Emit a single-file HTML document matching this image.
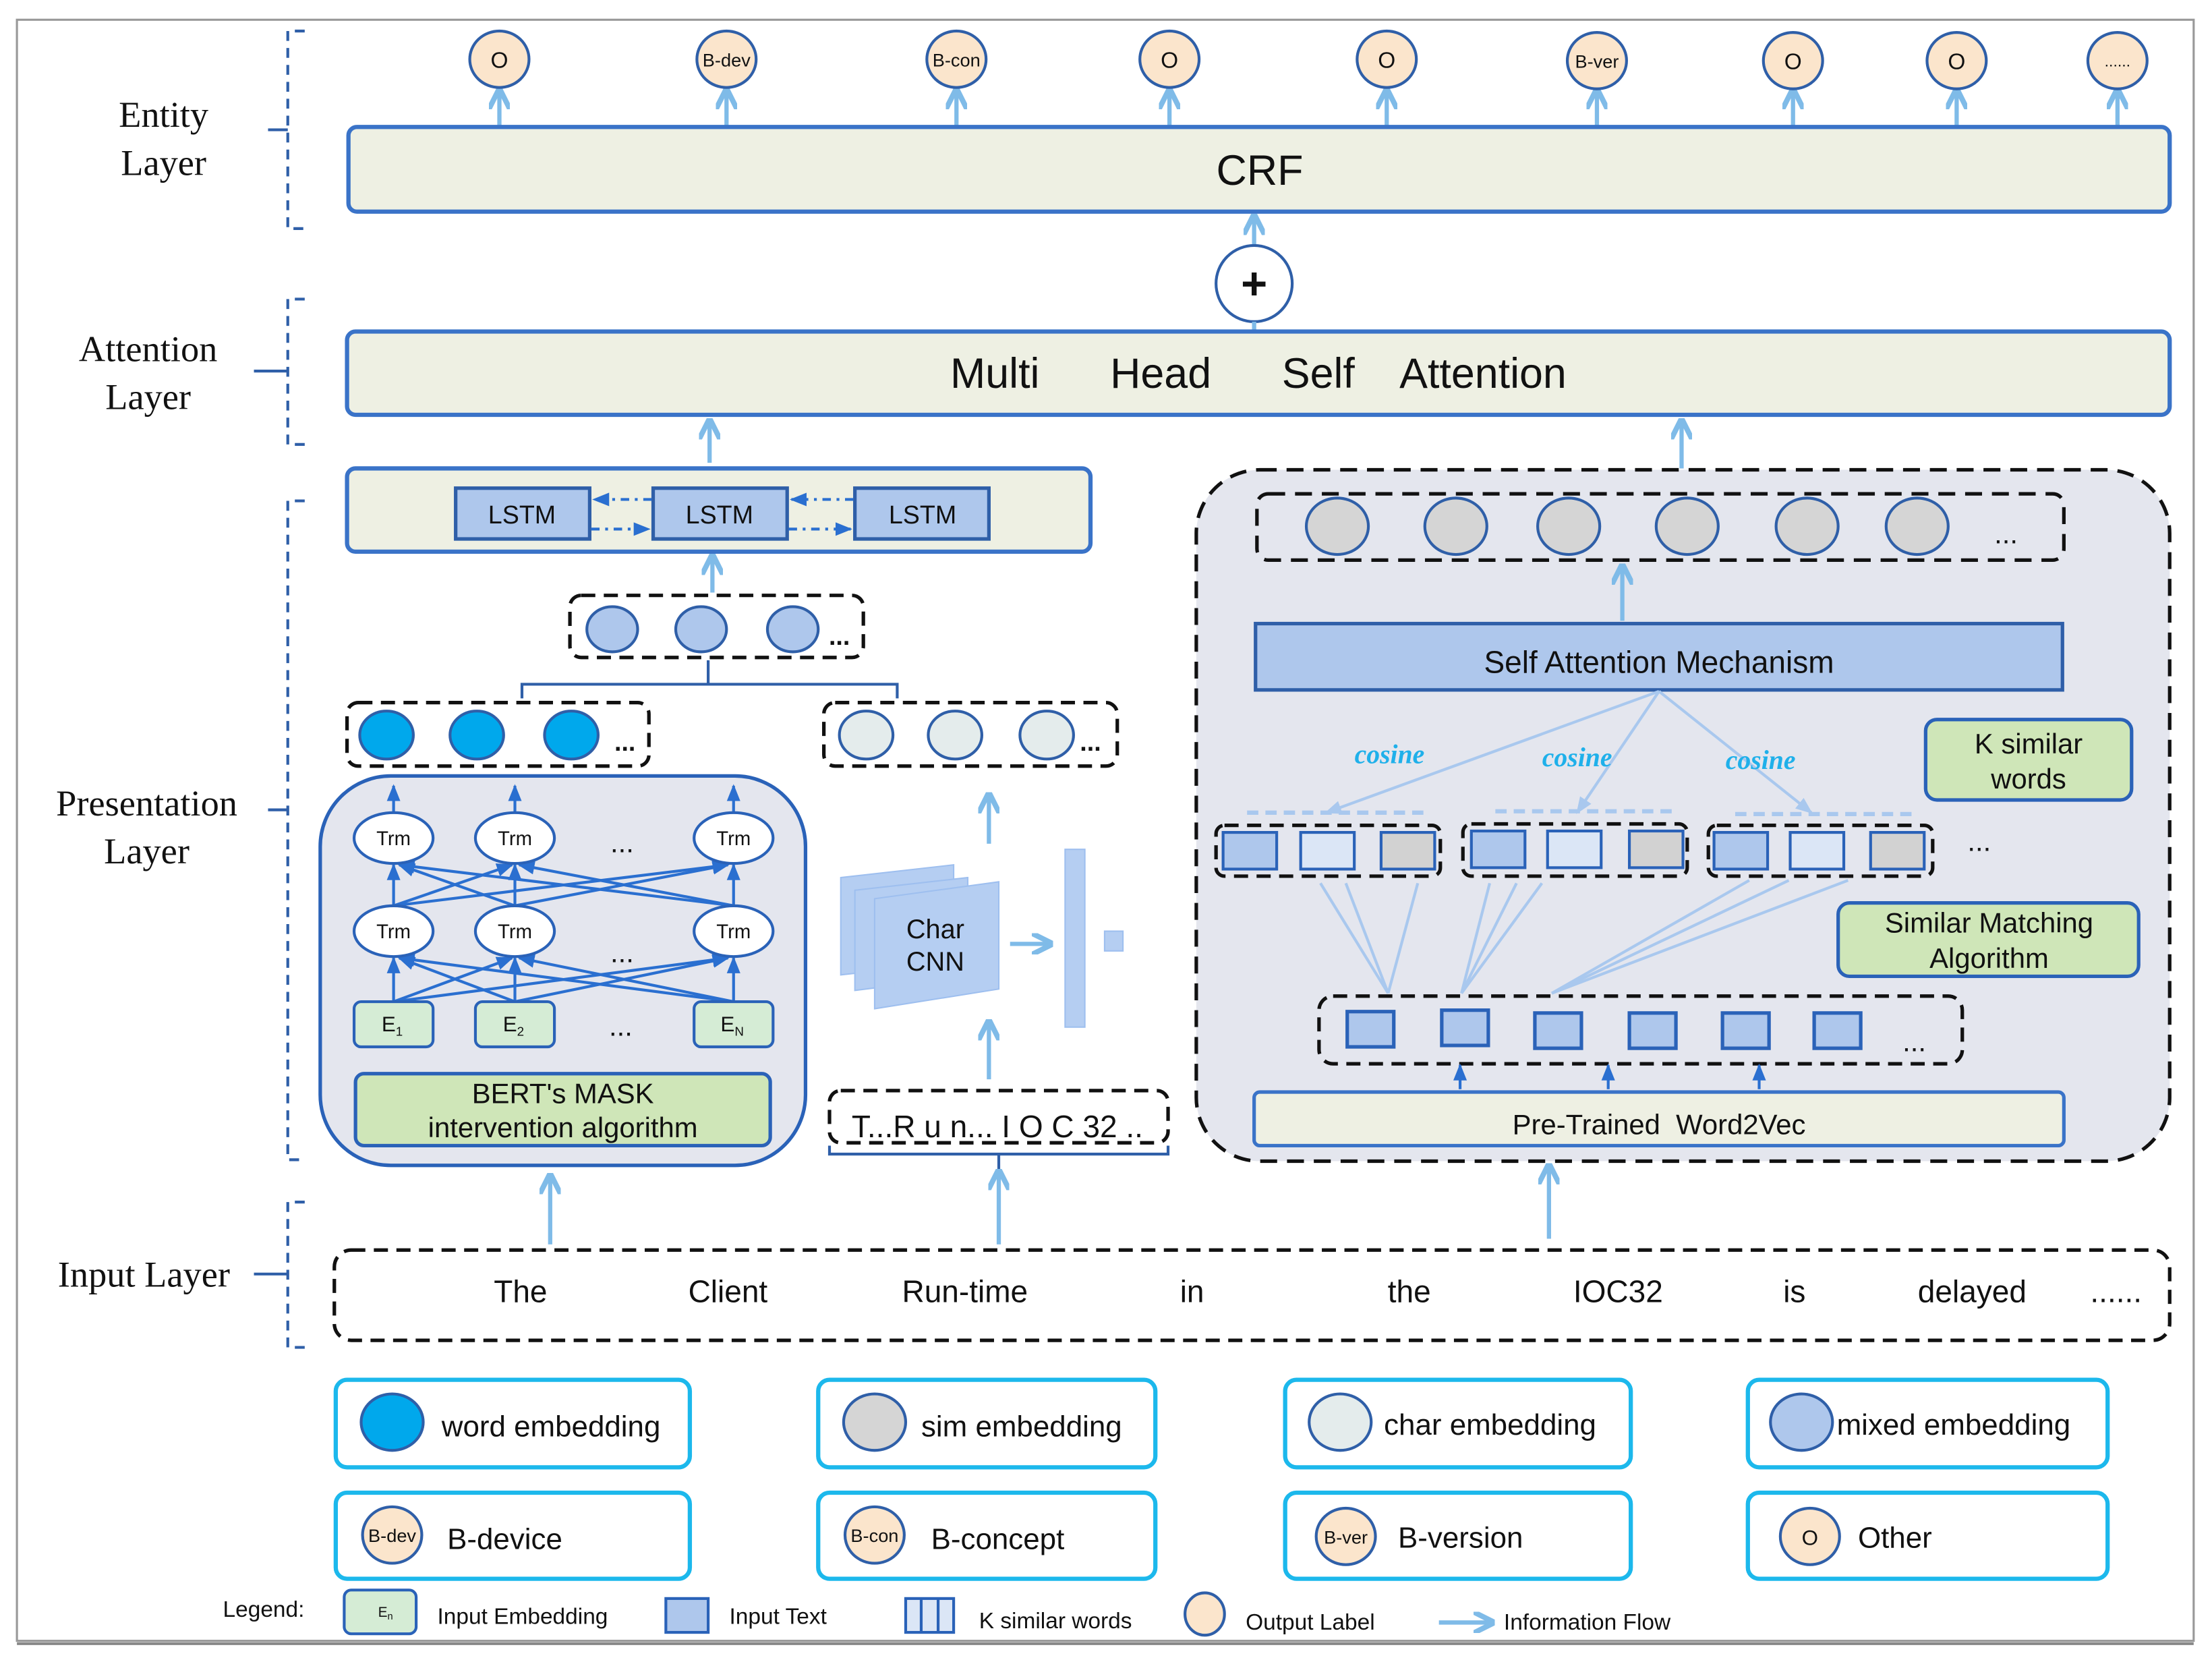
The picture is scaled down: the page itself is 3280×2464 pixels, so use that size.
<!DOCTYPE html>
<html><head><meta charset="utf-8"><style>
html,body{margin:0;padding:0;background:#fff;}
svg{display:block;}
text{font-family:"Liberation Sans",sans-serif;fill:#111;}
text.serif{font-family:"Liberation Serif",serif;}
text.cos{font-family:"Liberation Serif",serif;fill:#1fb0ea;font-style:italic;font-weight:bold;}
</style></head><body>
<svg width="3280" height="2464" viewBox="0 0 1568 1178" preserveAspectRatio="none" xmlns="http://www.w3.org/2000/svg">
<defs>
<marker id="la" viewBox="0 0 10 10" refX="9" refY="5" markerWidth="5" markerHeight="5" orient="auto"><path d="M0,0 L10,5 L0,10" fill="none" stroke="#7fbbe8" stroke-width="2.5"/></marker>
<marker id="da" viewBox="0 0 10 10" refX="9" refY="5" markerWidth="6" markerHeight="6" orient="auto"><path d="M0,1 L10,5 L0,9 z" fill="#2a6fd0"/></marker>
<marker id="pa" viewBox="0 0 10 10" refX="9" refY="5" markerWidth="6" markerHeight="6" orient="auto"><path d="M0,1 L10,5 L0,9 z" fill="#a9c8ee"/></marker>
</defs>
<rect x="12" y="14" width="1543" height="1149" fill="#fff" stroke="#999" stroke-width="1.5"/>
<line x1="12" y1="1165" x2="1555" y2="1165" stroke="#888" stroke-width="2"/>

<g fill="none" stroke="#2f5fa8" stroke-width="2" stroke-dasharray="7,5">
<path d="M216,22 H204 V162 H216"/><path d="M216,212 H204 V315 H216"/><path d="M216,355 H204 V822 H216"/><path d="M216,852 H204 V955 H216"/>
</g>
<g stroke="#2f5fa8" stroke-width="2"><line x1="190" y1="92" x2="204" y2="92"/><line x1="180" y1="263" x2="204" y2="263"/><line x1="190" y1="574" x2="204" y2="574"/><line x1="180" y1="903" x2="204" y2="903"/></g>
<g font-size="26" text-anchor="middle">
<text class="serif" x="116" y="90">Entity</text><text class="serif" x="116" y="124">Layer</text>
<text class="serif" x="105" y="256">Attention</text><text class="serif" x="105" y="290">Layer</text>
<text class="serif" x="104" y="578">Presentation</text><text class="serif" x="104" y="612">Layer</text>
<text class="serif" x="102" y="912">Input Layer</text>
</g>

<g stroke="#7fbbe8" stroke-width="3" marker-end="url(#la)">
<line x1="354" y1="89" x2="354" y2="64"/><line x1="515" y1="89" x2="515" y2="64"/><line x1="678" y1="89" x2="678" y2="64"/><line x1="829" y1="89" x2="829" y2="64"/><line x1="983" y1="89" x2="983" y2="64"/><line x1="1132" y1="89" x2="1132" y2="64"/><line x1="1271" y1="89" x2="1271" y2="64"/><line x1="1387" y1="89" x2="1387" y2="64"/><line x1="1501" y1="89" x2="1501" y2="64"/>
</g>
<g fill="#fbe5cc" stroke="#2f5fa8" stroke-width="2">
<ellipse cx="354" cy="42" rx="21" ry="20"/><ellipse cx="515" cy="42" rx="21" ry="20"/><ellipse cx="678" cy="42" rx="21" ry="20"/><ellipse cx="829" cy="42" rx="21" ry="20"/><ellipse cx="983" cy="42" rx="21" ry="20"/><ellipse cx="1132" cy="43" rx="21" ry="20"/><ellipse cx="1271" cy="43" rx="21" ry="20"/><ellipse cx="1387" cy="43" rx="21" ry="20"/><ellipse cx="1501" cy="43" rx="21" ry="20"/>
</g>
<g font-size="16" text-anchor="middle">
<text x="354" y="48">O</text><text x="515" y="47" font-size="13">B-dev</text><text x="678" y="47" font-size="13">B-con</text><text x="829" y="48">O</text><text x="983" y="48">O</text><text x="1132" y="48" font-size="13">B-ver</text><text x="1271" y="49">O</text><text x="1387" y="49">O</text><text x="1501" y="47" font-size="11">......</text>
</g>

<rect x="247" y="90" width="1291" height="60" rx="6" fill="#eef0e3" stroke="#3a73c8" stroke-width="3"/>
<text x="893" y="131" font-size="30" text-anchor="middle">CRF</text>
<line x1="889" y1="174" x2="889" y2="153" stroke="#7fbbe8" stroke-width="3" marker-end="url(#la)"/>
<circle cx="889" cy="201" r="27" fill="#fff" stroke="#2f5fa8" stroke-width="2"/>
<text x="889" y="212" font-size="32" text-anchor="middle" font-weight="bold">+</text>
<line x1="889" y1="235" x2="889" y2="228" stroke="#7fbbe8" stroke-width="3"/>

<rect x="246" y="235" width="1292" height="59" rx="6" fill="#eef0e3" stroke="#3a73c8" stroke-width="3"/>
<text x="892" y="275" font-size="30" text-anchor="middle" xml:space="preserve">Multi      Head      Self    Attention</text>
<line x1="503" y1="328" x2="503" y2="298" stroke="#7fbbe8" stroke-width="3" marker-end="url(#la)"/>
<line x1="1192" y1="332" x2="1192" y2="298" stroke="#7fbbe8" stroke-width="3" marker-end="url(#la)"/>

<rect x="246" y="332" width="527" height="59" rx="6" fill="#eef0e3" stroke="#3a73c8" stroke-width="3"/>
<g fill="#aec7ec" stroke="#2f5fa8" stroke-width="2.5"><rect x="323" y="346" width="95" height="36"/><rect x="463" y="346" width="95" height="36"/><rect x="606" y="346" width="95" height="36"/></g>
<g font-size="18" text-anchor="middle"><text x="370" y="371">LSTM</text><text x="510" y="371">LSTM</text><text x="654" y="371">LSTM</text></g>
<g stroke="#2a6fd0" stroke-width="2" stroke-dasharray="6,4,2,4">
<line x1="462" y1="354" x2="421" y2="354" marker-end="url(#da)"/><line x1="419" y1="375" x2="460" y2="375" marker-end="url(#da)"/>
<line x1="605" y1="354" x2="561" y2="354" marker-end="url(#da)"/><line x1="559" y1="375" x2="603" y2="375" marker-end="url(#da)"/>
</g>
<line x1="505" y1="420" x2="505" y2="394" stroke="#7fbbe8" stroke-width="3" marker-end="url(#la)"/>

<rect x="404" y="422" width="208" height="44" rx="8" fill="#fff" stroke="#111" stroke-width="2.5" stroke-dasharray="10,6"/>
<g fill="#aec7ec" stroke="#2f5fa8" stroke-width="2"><ellipse cx="434" cy="446" rx="18" ry="16"/><ellipse cx="497" cy="446" rx="18" ry="16"/><ellipse cx="562" cy="446" rx="18" ry="16"/></g>
<text x="595" y="457" font-size="18" font-weight="bold" text-anchor="middle">...</text>
<path d="M370,495 V485 H636 V495 M502,485 V468" fill="none" stroke="#2f5fa8" stroke-width="2"/>

<rect x="246" y="498" width="214" height="45" rx="8" fill="#fff" stroke="#111" stroke-width="2.5" stroke-dasharray="10,6"/>
<g fill="#00a8ec" stroke="#2f5fa8" stroke-width="2"><ellipse cx="274" cy="521" rx="19" ry="17"/><ellipse cx="338" cy="521" rx="19" ry="17"/><ellipse cx="405" cy="521" rx="19" ry="17"/></g>
<text x="443" y="532" font-size="18" font-weight="bold" text-anchor="middle">...</text>
<rect x="584" y="498" width="208" height="45" rx="8" fill="#fff" stroke="#111" stroke-width="2.5" stroke-dasharray="10,6"/>
<g fill="#e4ecec" stroke="#2f5fa8" stroke-width="2"><ellipse cx="614" cy="521" rx="19" ry="17"/><ellipse cx="677" cy="521" rx="19" ry="17"/><ellipse cx="742" cy="521" rx="19" ry="17"/></g>
<text x="773" y="532" font-size="18" font-weight="bold" text-anchor="middle">...</text>

<rect x="227" y="550" width="344" height="276" rx="50" fill="#e4e6ee" stroke="#2a62b8" stroke-width="2.5"/>
<g stroke="#2a6fd0" stroke-width="2" marker-end="url(#da)">
<line x1="279" y1="576" x2="279" y2="557"/><line x1="365" y1="576" x2="365" y2="557"/><line x1="520" y1="576" x2="520" y2="557"/>
<line x1="279" y1="642" x2="279" y2="613"/><line x1="279" y1="642" x2="363" y2="613"/><line x1="279" y1="642" x2="516" y2="613"/>
<line x1="365" y1="642" x2="283" y2="613"/><line x1="365" y1="642" x2="365" y2="613"/><line x1="365" y1="642" x2="516" y2="613"/>
<line x1="520" y1="642" x2="283" y2="613"/><line x1="520" y1="642" x2="368" y2="613"/><line x1="520" y1="642" x2="520" y2="613"/>
<line x1="279" y1="710" x2="279" y2="679"/><line x1="279" y1="710" x2="363" y2="679"/><line x1="279" y1="710" x2="516" y2="679"/>
<line x1="365" y1="710" x2="283" y2="679"/><line x1="365" y1="710" x2="365" y2="679"/><line x1="365" y1="710" x2="516" y2="679"/>
<line x1="520" y1="710" x2="283" y2="679"/><line x1="520" y1="710" x2="368" y2="679"/><line x1="520" y1="710" x2="520" y2="679"/>
</g>
<g fill="#fff" stroke="#2a62b8" stroke-width="2">
<ellipse cx="279" cy="594" rx="28" ry="18"/><ellipse cx="365" cy="594" rx="28" ry="18"/><ellipse cx="520" cy="594" rx="28" ry="18"/>
<ellipse cx="279" cy="660" rx="28" ry="18"/><ellipse cx="365" cy="660" rx="28" ry="18"/><ellipse cx="520" cy="660" rx="28" ry="18"/>
</g>
<g font-size="14" text-anchor="middle">
<text x="279" y="599">Trm</text><text x="365" y="599">Trm</text><text x="520" y="599">Trm</text>
<text x="279" y="665">Trm</text><text x="365" y="665">Trm</text><text x="520" y="665">Trm</text>
</g>
<g font-size="20" text-anchor="middle"><text x="441" y="604">...</text><text x="441" y="682">...</text><text x="440" y="734">...</text></g>
<g fill="#d5ecd5" stroke="#2a62b8" stroke-width="2"><rect x="251" y="710" width="56" height="32" rx="5"/><rect x="337" y="710" width="56" height="32" rx="5"/><rect x="492" y="710" width="56" height="32" rx="5"/></g>
<g font-size="15" text-anchor="middle"><text x="278" y="731">E<tspan font-size="9" dy="3">1</tspan></text><text x="364" y="731">E<tspan font-size="9" dy="3">2</tspan></text><text x="519" y="731">E<tspan font-size="9" dy="3">N</tspan></text></g>
<rect x="252" y="761" width="294" height="51" rx="6" fill="#cfe6b8" stroke="#2a62b8" stroke-width="2.5"/>
<text x="399" y="782" font-size="20" text-anchor="middle">BERT's MASK</text>
<text x="399" y="806" font-size="20" text-anchor="middle">intervention algorithm</text>

<line x1="701" y1="598" x2="701" y2="563" stroke="#7fbbe8" stroke-width="3" marker-end="url(#la)"/>
<line x1="701" y1="765" x2="701" y2="724" stroke="#7fbbe8" stroke-width="3" marker-end="url(#la)"/>
<g fill="#b5cef2" stroke="#9ebfef" stroke-width="1">
<polygon points="596,622 676,613 676,682 596,691"/>
<polygon points="606,631 686,622 686,692 606,702"/>
<polygon points="620,637 708,625 708,701 620,715"/>
</g>
<text x="663" y="665" font-size="19" text-anchor="middle">Char</text><text x="663" y="688" font-size="19" text-anchor="middle">CNN</text>
<line x1="716" y1="669" x2="745" y2="669" stroke="#7fbbe8" stroke-width="3" marker-end="url(#la)"/>
<rect x="755" y="602" width="14" height="126" fill="#b5cef2" stroke="#9ebfef"/>
<rect x="783" y="660" width="13" height="14" fill="#b5cef2" stroke="#9ebfef"/>
<rect x="588" y="773" width="240" height="37" rx="8" fill="#fff" stroke="#111" stroke-width="2.5" stroke-dasharray="10,6"/>
<text x="707" y="806" font-size="22" text-anchor="middle">T...R u n... I O C 32 ..</text>
<path d="M588,812 V818 H828 V812 M708,818 V830" fill="none" stroke="#2f5fa8" stroke-width="2"/>

<line x1="390" y1="882" x2="390" y2="833" stroke="#7fbbe8" stroke-width="3" marker-end="url(#la)"/>
<line x1="708" y1="882" x2="708" y2="830" stroke="#7fbbe8" stroke-width="3" marker-end="url(#la)"/>
<line x1="1098" y1="878" x2="1098" y2="826" stroke="#7fbbe8" stroke-width="3" marker-end="url(#la)"/>

<rect x="848" y="333" width="690" height="490" rx="45" fill="#e4e6ee" stroke="#111" stroke-width="2.5" stroke-dasharray="12,7"/>
<rect x="891" y="350" width="572" height="47" rx="8" fill="none" stroke="#111" stroke-width="2.5" stroke-dasharray="12,7"/>
<g fill="#d5d5d5" stroke="#2f5fa8" stroke-width="2"><ellipse cx="948" cy="373" rx="22" ry="20"/><ellipse cx="1032" cy="373" rx="22" ry="20"/><ellipse cx="1112" cy="373" rx="22" ry="20"/><ellipse cx="1196" cy="373" rx="22" ry="20"/><ellipse cx="1281" cy="373" rx="22" ry="20"/><ellipse cx="1359" cy="373" rx="22" ry="20"/></g>
<text x="1422" y="385" font-size="20" text-anchor="middle">...</text>
<line x1="1150" y1="440" x2="1150" y2="401" stroke="#7fbbe8" stroke-width="3" marker-end="url(#la)"/>
<rect x="890" y="442" width="572" height="47" fill="#aec7ec" stroke="#2f5fa8" stroke-width="2.5"/>
<text x="1176" y="477" font-size="22" text-anchor="middle">Self Attention Mechanism</text>
<g stroke="#a9c8ee" stroke-width="2" marker-end="url(#pa)"><line x1="1176" y1="490" x2="940" y2="576"/><line x1="1176" y1="490" x2="1118" y2="576"/><line x1="1176" y1="490" x2="1284" y2="576"/></g>
<g font-size="19" text-anchor="middle">
<text class="cos" x="985" y="541" style="fill:#1fb0ea">cosine</text><text class="cos" x="1118" y="543" style="fill:#1fb0ea">cosine</text><text class="cos" x="1248" y="545" style="fill:#1fb0ea">cosine</text></g>
<rect x="1365" y="510" width="146" height="57" rx="8" fill="#cfe6b8" stroke="#2a62b8" stroke-width="2.5"/>
<text x="1438" y="534" font-size="20" text-anchor="middle">K similar</text><text x="1438" y="559" font-size="20" text-anchor="middle">words</text>
<g stroke="#a9c8ee" stroke-width="3" stroke-dasharray="8,5"><line x1="884" y1="576" x2="1010" y2="576"/><line x1="1060" y1="575" x2="1185" y2="575"/><line x1="1230" y1="577" x2="1355" y2="577"/></g>
<g fill="none" stroke="#111" stroke-width="2.5" stroke-dasharray="10,6"><rect x="862" y="585" width="159" height="36" rx="6"/><rect x="1037" y="584" width="159" height="37" rx="6"/><rect x="1211" y="585" width="159" height="36" rx="6"/></g>
<g stroke="#2a62b8" stroke-width="2">
<rect x="867" y="590" width="38" height="26" fill="#aec7ec"/><rect x="922" y="590" width="38" height="26" fill="#dbe6f6"/><rect x="979" y="590" width="38" height="26" fill="#d2d2d2"/>
<rect x="1043" y="589" width="38" height="26" fill="#aec7ec"/><rect x="1097" y="589" width="38" height="26" fill="#dbe6f6"/><rect x="1155" y="589" width="38" height="26" fill="#d2d2d2"/>
<rect x="1215" y="590" width="38" height="26" fill="#aec7ec"/><rect x="1269" y="590" width="38" height="26" fill="#dbe6f6"/><rect x="1326" y="590" width="38" height="26" fill="#d2d2d2"/>
</g>
<text x="1403" y="603" font-size="20" text-anchor="middle">...</text>
<rect x="1303" y="640" width="213" height="52" rx="8" fill="#cfe6b8" stroke="#2a62b8" stroke-width="2.5"/>
<text x="1410" y="661" font-size="20" text-anchor="middle">Similar Matching</text><text x="1410" y="686" font-size="20" text-anchor="middle">Algorithm</text>
<g stroke="#a9c8ee" stroke-width="2">
<line x1="936" y1="626" x2="984" y2="704"/><line x1="954" y1="626" x2="984" y2="704"/><line x1="1005" y1="626" x2="984" y2="704"/>
<line x1="1056" y1="626" x2="1036" y2="704"/><line x1="1075" y1="626" x2="1036" y2="704"/><line x1="1093" y1="626" x2="1036" y2="704"/>
<line x1="1240" y1="624" x2="1100" y2="704"/><line x1="1268" y1="624" x2="1100" y2="704"/><line x1="1310" y1="624" x2="1100" y2="704"/>
</g>
<rect x="935" y="706" width="456" height="48" rx="10" fill="none" stroke="#111" stroke-width="2.5" stroke-dasharray="10,6"/>
<g fill="#aec7ec" stroke="#2a62b8" stroke-width="2.5"><rect x="955" y="717" width="33" height="25"/><rect x="1022" y="716" width="33" height="25"/><rect x="1088" y="718" width="33" height="25"/><rect x="1155" y="718" width="33" height="25"/><rect x="1221" y="718" width="33" height="25"/><rect x="1286" y="718" width="33" height="25"/></g>
<text x="1357" y="745" font-size="20" text-anchor="middle">...</text>
<g stroke="#2a6fd0" stroke-width="2" marker-end="url(#da)"><line x1="1035" y1="772" x2="1035" y2="755"/><line x1="1140" y1="772" x2="1140" y2="755"/><line x1="1247" y1="772" x2="1247" y2="755"/></g>
<rect x="889" y="774" width="574" height="38" rx="4" fill="#eef0e3" stroke="#3a73c8" stroke-width="2.5"/>
<text x="1176" y="804" font-size="20" text-anchor="middle" xml:space="preserve">Pre-Trained  Word2Vec</text>

<rect x="237" y="886" width="1301" height="64" rx="12" fill="#fff" stroke="#111" stroke-width="2.5" stroke-dasharray="10,6"/>
<g font-size="22" text-anchor="middle">
<text x="369" y="923">The</text><text x="516" y="923">Client</text><text x="684" y="923">Run-time</text><text x="845" y="923">in</text><text x="999" y="923">the</text><text x="1147" y="923">IOC32</text><text x="1272" y="923">is</text><text x="1398" y="923">delayed</text><text x="1500" y="923">......</text>
</g>

<g fill="#fff" stroke="#1cb8ec" stroke-width="3">
<rect x="238" y="978" width="251" height="62" rx="8"/><rect x="580" y="978" width="239" height="62" rx="8"/><rect x="911" y="978" width="245" height="62" rx="8"/><rect x="1239" y="978" width="255" height="62" rx="8"/>
<rect x="238" y="1058" width="251" height="61" rx="8"/><rect x="580" y="1058" width="239" height="61" rx="8"/><rect x="911" y="1058" width="245" height="61" rx="8"/><rect x="1239" y="1058" width="255" height="61" rx="8"/>
</g>
<g stroke="#2f5fa8" stroke-width="2">
<ellipse cx="278" cy="1008" rx="22" ry="20" fill="#00a8ec"/><ellipse cx="620" cy="1008" rx="22" ry="20" fill="#d5d5d5"/><ellipse cx="950" cy="1008" rx="22" ry="20" fill="#e4ecec"/><ellipse cx="1277" cy="1008" rx="22" ry="20" fill="#aec7ec"/>
<ellipse cx="278" cy="1088" rx="21" ry="20" fill="#fbe5cc"/><ellipse cx="620" cy="1088" rx="21" ry="20" fill="#fbe5cc"/><ellipse cx="954" cy="1089" rx="21" ry="20" fill="#fbe5cc"/><ellipse cx="1283" cy="1089" rx="21" ry="20" fill="#fbe5cc"/>
</g>
<g font-size="21">
<text x="313" y="1018">word embedding</text><text x="653" y="1018">sim embedding</text><text x="981" y="1017">char embedding</text><text x="1302" y="1017">mixed embedding</text>
<text x="317" y="1098">B-device</text><text x="660" y="1098">B-concept</text><text x="991" y="1097">B-version</text><text x="1317" y="1097">Other</text>
</g>
<g font-size="13" text-anchor="middle"><text x="278" y="1093">B-dev</text><text x="620" y="1093">B-con</text><text x="954" y="1094">B-ver</text><text x="1283" y="1095" font-size="15">O</text></g>

<text x="158" y="1146" font-size="16">Legend:</text>
<rect x="244" y="1127" width="51" height="31" rx="5" fill="#d5ecd5" stroke="#2a62b8" stroke-width="2"/>
<text x="268" y="1146" font-size="10">E<tspan font-size="7" dy="2">n</tspan></text>
<text x="310" y="1151" font-size="16">Input Embedding</text>
<rect x="472" y="1133" width="30" height="24" fill="#aec7ec" stroke="#2a62b8" stroke-width="2"/>
<text x="517" y="1151" font-size="16">Input Text</text>
<rect x="642" y="1133" width="34" height="24" fill="#dbe6f6" stroke="#2a62b8" stroke-width="2"/>
<line x1="653" y1="1133" x2="653" y2="1157" stroke="#2a62b8" stroke-width="2"/><line x1="665" y1="1133" x2="665" y2="1157" stroke="#2a62b8" stroke-width="2"/>
<text x="694" y="1154" font-size="16">K similar words</text>
<ellipse cx="854" cy="1144" rx="14" ry="15" fill="#fbe5cc" stroke="#2f5fa8" stroke-width="2"/>
<text x="883" y="1155" font-size="16">Output Label</text>
<line x1="1020" y1="1150" x2="1058" y2="1150" stroke="#7fbbe8" stroke-width="3" marker-end="url(#la)"/>
<text x="1066" y="1155" font-size="16">Information Flow</text>
</svg>
</body></html>
